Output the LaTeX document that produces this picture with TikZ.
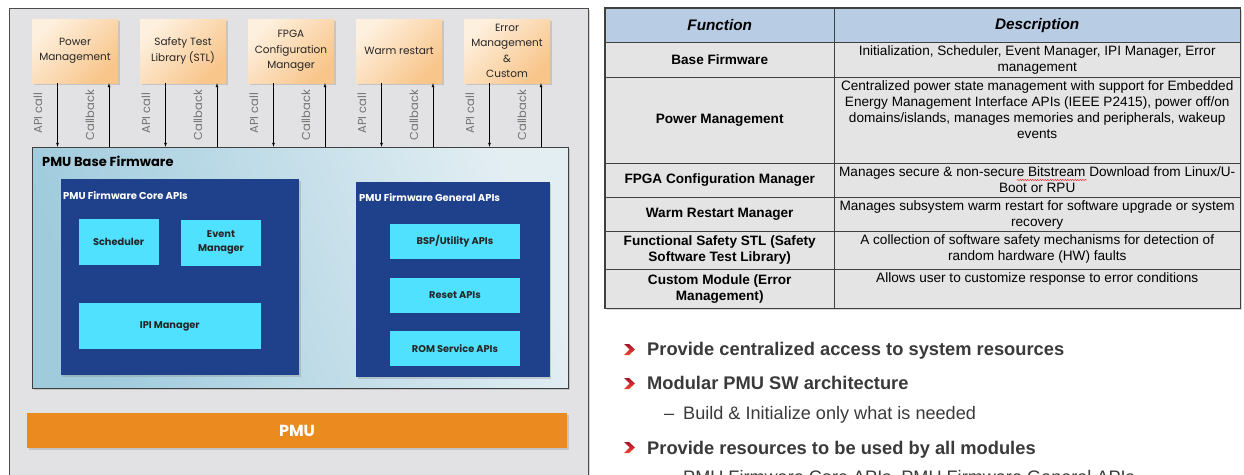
\documentclass[tikz,border=0pt]{standalone}
\usepackage{fontspec}
\setmainfont{Liberation Sans}
\newfontfamily\geofont{Poppins}
\usepackage{tikz}
\usetikzlibrary{calc,positioning,arrows,shadows,decorations.pathmorphing}
\usepackage{xcolor}
\definecolor{panelgray}{HTML}{E2E2E4}
\definecolor{peachA}{HTML}{FEF0DE}
\definecolor{peachB}{HTML}{F8C58A}
\definecolor{baseA}{HTML}{9FCBDD}
\definecolor{baseB}{HTML}{E3EEF3}
\definecolor{navy}{HTML}{1F418B}
\definecolor{cyanbox}{HTML}{4FE1FF}
\definecolor{pmuorange}{HTML}{EB8A1F}
\definecolor{hdrblue}{HTML}{B8CCE4}
\definecolor{rowgray}{HTML}{E4E4E4}
\definecolor{redA}{HTML}{A8102A}
\definecolor{redB}{HTML}{F2452E}
\definecolor{textgray}{HTML}{3A3A3A}
\newcommand{\chevron}[2]{\shade[top color=redA, bottom color=redB] (#1-5,#2-5.5) -- (#1,#2-5.5) -- (#1+6,#2) -- (#1,#2+5.5) -- (#1-5,#2+5.5) -- (#1+0.5,#2) -- cycle;}

\begin{document}
\begin{tikzpicture}[x=1pt,y=-1pt]
\useasboundingbox (0,0) rectangle (1244,474);
\clip (0,0) rectangle (1244,474);
\fill[white] (0,0) rectangle (1244,474);
\tikzstyle{softshadow}=[drop shadow={opacity=0.3,shadow xshift=1.5pt,shadow yshift=-1.5pt}]
\tikzstyle{module}=[top color=peachA, bottom color=peachB, shading angle=45, softshadow, minimum width=86pt, minimum height=64pt, inner sep=1pt, align=center, text=black!85, font=\geofont\fontsize{10.5}{15.5}\selectfont]
\tikzstyle{callarrow}=[-latex, thin, black]
\tikzstyle{calltext}=[rotate=90, inner sep=0pt, text=black!55, font=\geofont\fontsize{11.5}{13}\selectfont]
\tikzstyle{apibox}=[fill=navy, softshadow]
\tikzstyle{apilabel}=[anchor=west, inner sep=0pt, text=white, font=\geofont\bfseries\fontsize{10}{12}\selectfont]
\tikzstyle{svcbox}=[fill=cyanbox, align=center, inner sep=1pt, text=black!85, font=\geofont\bfseries\fontsize{9.8}{13.5}\selectfont]
\tikzstyle{fcell}=[draw=black!75, fill=rowgray, minimum width=229pt, anchor=north west, inner sep=0pt, align=center, font=\bfseries\fontsize{13.6}{16}\selectfont]
\tikzstyle{dcell}=[draw=black!75, fill=rowgray, minimum width=406pt, anchor=north west, inner sep=0pt]
\tikzstyle{dtext}=[anchor=north, yshift=-3pt, align=center, inner sep=0pt, font=\fontsize{13.6}{16}\selectfont]
\tikzstyle{bullet}=[anchor=base west, inner sep=0pt, text=textgray, font=\bfseries\fontsize{18.3}{22}\selectfont]
\tikzstyle{subbullet}=[anchor=base west, inner sep=0pt, text=textgray, font=\fontsize{18.1}{22}\selectfont]

% left panel
\node[draw=black!70, fill=panelgray, softshadow, minimum width=579pt, minimum height=472pt, anchor=north west] (panel) at (9,8) {};
\node[module] (pm) at (75,51) {Power\\Management};
\node[module] (stl) at (183,51) {Safety Test\\Library (STL)};
\node[module] (fpga) at (291,51) {FPGA\\Configuration\\Manager};
\node[module] (warm) at (399,51) {Warm restart};
\node[module] (err) at (507,51) {Error\\Management\\\&\\Custom};

\node[draw=black!75, top color=baseA, bottom color=baseB, shading angle=110, softshadow, minimum width=535.5pt, minimum height=241pt] (base) at (300.25,267.5) {};
\node[anchor=west, inner sep=0pt, font=\geofont\bfseries\fontsize{13}{15}\selectfont] (baselabel) at (42,161) {PMU Base Firmware};

\draw[callarrow] ([xshift=-17.5pt]pm.south) -- ([xshift=-17.5pt]pm.south |- base.north);
\draw[callarrow] ([xshift=34pt]pm.south |- base.north) -- ([xshift=34pt]pm.south);
\draw[callarrow] ([xshift=-17.5pt]stl.south) -- ([xshift=-17.5pt]stl.south |- base.north);
\draw[callarrow] ([xshift=34pt]stl.south |- base.north) -- ([xshift=34pt]stl.south);
\draw[callarrow] ([xshift=-17.5pt]fpga.south) -- ([xshift=-17.5pt]fpga.south |- base.north);
\draw[callarrow] ([xshift=34pt]fpga.south |- base.north) -- ([xshift=34pt]fpga.south);
\draw[callarrow] ([xshift=-17.5pt]warm.south) -- ([xshift=-17.5pt]warm.south |- base.north);
\draw[callarrow] ([xshift=34pt]warm.south |- base.north) -- ([xshift=34pt]warm.south);
\draw[callarrow] ([xshift=-17.5pt]err.south) -- ([xshift=-17.5pt]err.south |- base.north);
\draw[callarrow] ([xshift=34pt]err.south |- base.north) -- ([xshift=34pt]err.south);

\node[calltext] (pmapi) at ([xshift=-37pt,yshift=-30pt]pm.south) {API call};
\node[calltext] (pmcb) at ([xshift=15pt,yshift=-32pt]pm.south) {Callback};
\node[calltext] (stlapi) at ([xshift=-37pt,yshift=-30pt]stl.south) {API call};
\node[calltext] (stlcb) at ([xshift=15pt,yshift=-32pt]stl.south) {Callback};
\node[calltext] (fpgaapi) at ([xshift=-37pt,yshift=-30pt]fpga.south) {API call};
\node[calltext] (fpgacb) at ([xshift=15pt,yshift=-32pt]fpga.south) {Callback};
\node[calltext] (warmapi) at ([xshift=-37pt,yshift=-30pt]warm.south) {API call};
\node[calltext] (warmcb) at ([xshift=15pt,yshift=-32pt]warm.south) {Callback};
\node[calltext] (errapi) at ([xshift=-37pt,yshift=-30pt]err.south) {API call};
\node[calltext] (errcb) at ([xshift=15pt,yshift=-32pt]err.south) {Callback};

\node[apibox, minimum width=238.5pt, minimum height=196pt] (core) at (179.75,277) {};
\node[apilabel] (corelabel) at (63,196) {PMU Firmware Core APIs};
\node[svcbox, minimum width=80pt, minimum height=46pt] (sched) at (118.5,242) {Scheduler};
\node[svcbox, minimum width=80pt, minimum height=46pt] (event) at (221,242.5) {Event\\Manager};
\node[svcbox, minimum width=182.5pt, minimum height=46pt] (ipi) at (169.75,326) {IPI Manager};

\node[apibox, minimum width=193.5pt, minimum height=195pt] (gen) at (452.75,279.5) {};
\node[apilabel] (genlabel) at (359,198) {PMU Firmware General APIs};
\node[svcbox, minimum width=130pt, minimum height=35pt] (bsp) at (455,241.5) {BSP/Utility APIs};
\node[svcbox, minimum width=130pt, minimum height=35pt] (reset) at (455,295.5) {Reset APIs};
\node[svcbox, minimum width=130pt, minimum height=35pt] (rom) at (455,348.5) {ROM Service APIs};

\node[fill=pmuorange, softshadow, minimum width=540pt, minimum height=35pt, text=white, font=\geofont\bfseries\fontsize{16}{18}\selectfont] (pmu) at (297,430.5) {PMU};

% function table
\node[fill=rowgray, softshadow, minimum width=635pt, minimum height=300pt, anchor=north west] (tbl) at (605,8) {};
\node[fcell, fill=hdrblue, minimum height=34pt, font=\bfseries\itshape\fontsize{15.3}{18}\selectfont] (fhead) at (605,8) {Function};
\node[dcell, fill=hdrblue, minimum height=34pt, font=\bfseries\itshape\fontsize{15.3}{18}\selectfont] (dhead) at (834,8) {Description};
\node[fcell, minimum height=35pt] (fbase) at (605,42) {Base Firmware};
\node[dcell, minimum height=35pt] (dbase) at (834,42) {};
\node[dtext] (tbase) at (dbase.north) {Initialization, Scheduler, Event Manager, IPI Manager, Error\\management};
\node[fcell, minimum height=86pt] (fpower) at (605,77) {Power Management};
\node[dcell, minimum height=86pt] (dpower) at (834,77) {};
\node[dtext] (tpower) at (dpower.north) {Centralized power state management with support for Embedded\\Energy Management Interface APIs (IEEE P2415), power off/on\\domains/islands, manages memories and peripherals, wakeup\\events};
\node[fcell, minimum height=34pt] (ffpga) at (605,163) {FPGA Configuration Manager};
\node[dcell, minimum height=34pt] (dfpga) at (834,163) {};
\node[dtext] (tfpga) at (dfpga.north) {Manages secure \& non-secure Bitstream Download from Linux/U-\\Boot or RPU};
\node[fcell, minimum height=34pt] (fwarm) at (605,197) {Warm Restart Manager};
\node[dcell, minimum height=34pt] (dwarm) at (834,197) {};
\node[dtext] (twarm) at (dwarm.north) {Manages subsystem warm restart for software upgrade or system\\recovery};
\node[fcell, minimum height=38pt] (fsafe) at (605,231) {Functional Safety STL (Safety\\Software Test Library)};
\node[dcell, minimum height=38pt] (dsafe) at (834,231) {};
\node[dtext] (tsafe) at (dsafe.north) {A collection of software safety mechanisms for detection of\\random hardware (HW) faults};
\node[fcell, minimum height=39pt] (fcustom) at (605,269) {Custom Module (Error\\Management)};
\node[dcell, minimum height=39pt] (dcustom) at (834,269) {};
\node[dtext] (tcustom) at (dcustom.north) {Allows user to customize response to error conditions};
\draw[black!75, line width=1.5pt] (tbl.north west) rectangle (tbl.south east);
\draw[red, decorate, decoration={snake, amplitude=0.6pt, segment length=2.5pt}] (1017,180) -- (1087,180);

% bullets
\chevron{629}{349.5}
\node[bullet] (b1) at (647,355) {Provide centralized access to system resources};
\chevron{629}{383.5}
\node[bullet] (b2) at (647,389) {Modular PMU SW architecture};
\node[subbullet] (d3) at (664,419) {\textendash};
\node[subbullet] (b3) at (683,419) {Build \& Initialize only what is needed};
\chevron{629}{447.5}
\node[bullet] (b4) at (647,454) {Provide resources to be used by all modules};
\node[subbullet] (d5) at (664,483) {\textendash};
\node[subbullet] (b5) at (683,483) {PMU Firmware Core APIs, PMU Firmware General APIs};
\end{tikzpicture}
\end{document}
